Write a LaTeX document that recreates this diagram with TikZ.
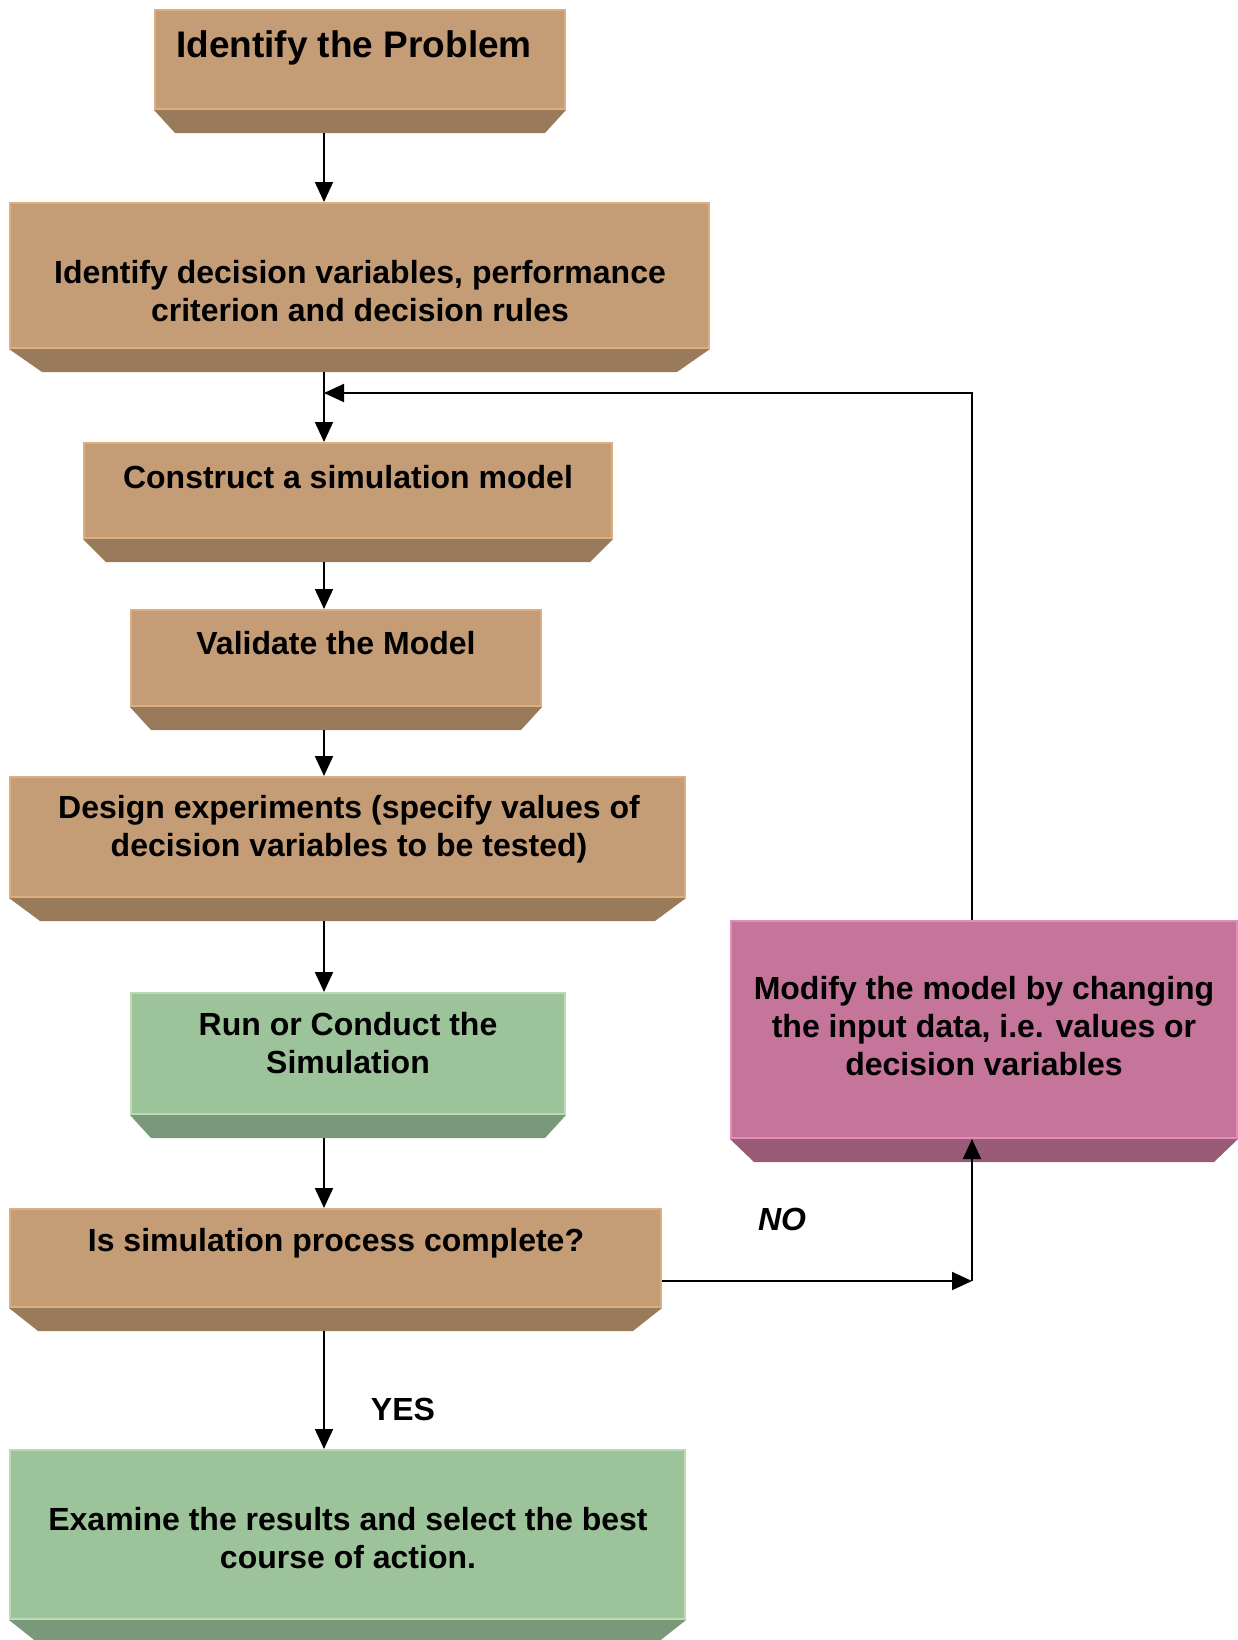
\documentclass[tikz,border=0pt]{standalone}
\usepackage{fontspec}
\setmainfont{Liberation Sans}
\usetikzlibrary{arrows.meta}

\definecolor{tanface}{HTML}{C49D77}
\definecolor{tanedge}{HTML}{DDAE80}
\definecolor{tanbev}{HTML}{997A5B}
\definecolor{greenface}{HTML}{9DC39A}
\definecolor{greenedge}{HTML}{B8DBB4}
\definecolor{greenbev}{HTML}{7A997A}
\definecolor{pinkface}{HTML}{C47599}
\definecolor{pinkedge}{HTML}{E48CBA}
\definecolor{pinkbev}{HTML}{995B78}

\tikzset{
  box/.style={rectangle, inner sep=0pt, line width=1pt},
  tanbox/.style={box, fill=tanface, draw=tanedge},
  greenbox/.style={box, fill=greenface, draw=greenedge},
  pinkbox/.style={box, fill=pinkface, draw=pinkedge},
  txt/.style={align=center, font=\fontsize{16}{18.8}\selectfont\bfseries},
  arr/.style={line width=1pt, -{Triangle[length=10pt,width=9pt]}}
}

\begin{document}
\begin{tikzpicture}[x=0.5pt, y=-0.5pt]
\useasboundingbox (0,0) rectangle (1238,1640);

% Boxes (face of each step)
\node[tanbox, minimum width=205pt, minimum height=49.5pt] (b1) at (360,59.5) {};
\node[tanbox, minimum width=349.5pt, minimum height=72.5pt] (b2) at (359.5,275.5) {};
\node[tanbox, minimum width=264pt, minimum height=47.5pt] (b3) at (348,490.5) {};
\node[tanbox, minimum width=205pt, minimum height=48pt] (b4) at (336,658) {};
\node[tanbox, minimum width=337.5pt, minimum height=60pt] (b5) at (347.5,837) {};
\node[greenbox, minimum width=217pt, minimum height=60.5pt] (b6) at (348,1053.5) {};
\node[tanbox, minimum width=325.5pt, minimum height=49pt] (b7) at (335.5,1258) {};
\node[greenbox, minimum width=337.5pt, minimum height=84.5pt] (b8) at (347.5,1534.5) {};
\node[pinkbox, minimum width=253pt, minimum height=108.5pt] (pink) at (984,1029.5) {};

% Bevels under the boxes
\fill[tanbev] (b1.south west) -- (b1.south east) -- ([shift={(-21,23)}]b1.south east) -- ([shift={(21,23)}]b1.south west) -- cycle;
\fill[tanbev] (b2.south west) -- (b2.south east) -- ([shift={(-33,23)}]b2.south east) -- ([shift={(33,23)}]b2.south west) -- cycle;
\fill[tanbev] (b3.south west) -- (b3.south east) -- ([shift={(-23,23)}]b3.south east) -- ([shift={(23,23)}]b3.south west) -- cycle;
\fill[tanbev] (b4.south west) -- (b4.south east) -- ([shift={(-21,23)}]b4.south east) -- ([shift={(21,23)}]b4.south west) -- cycle;
\fill[tanbev] (b5.south west) -- (b5.south east) -- ([shift={(-31,23)}]b5.south east) -- ([shift={(31,23)}]b5.south west) -- cycle;
\fill[greenbev] (b6.south west) -- (b6.south east) -- ([shift={(-21,23)}]b6.south east) -- ([shift={(21,23)}]b6.south west) -- cycle;
\fill[tanbev] (b7.south west) -- (b7.south east) -- ([shift={(-29,23)}]b7.south east) -- ([shift={(29,23)}]b7.south west) -- cycle;
\fill[greenbev] (b8.south west) -- (b8.south east) -- ([shift={(-29,23)}]b8.south east) -- ([shift={(29,23)}]b8.south west) -- cycle;
\fill[pinkbev] (pink.south west) -- (pink.south east) -- ([shift={(-24,23)}]pink.south east) -- ([shift={(24,23)}]pink.south west) -- cycle;

% Texts
\node[txt, font=\fontsize{18.5}{22}\selectfont\bfseries] (t1) at (354,48) {Identify the Problem};
\node[txt] (t2) at (360,291) {Identify decision variables, performance\\criterion and decision rules};
\node[txt] (t3) at (348,477) {Construct a simulation model};
\node[txt] (t4) at (336,643) {Validate the Model};
\node[txt] (t5) at (349,829) {Design experiments (specify values of\\decision variables to be tested)};
\node[txt] (t6) at (348,1043) {Run or Conduct the\\Simulation};
\node[txt] (t7) at (336,1243) {Is simulation process complete?};
\node[txt] (t8) at (348,1538) {Examine the results and select the best\\course of action.};
\node[txt] (t9) at (984,1026) {Modify the model by changing\\the input data, i.e. values or\\decision variables};
\node[txt, font=\fontsize{16}{18.8}\selectfont\bfseries\itshape] (no) at (782,1219) {NO};
\node[txt] (yes) at (403,1409) {YES};

% Connectors
\coordinate (trunk) at (324,0);
\coordinate (join) at (324,393);
\coordinate (turn) at (972,1281);
\coordinate (b1base) at ([shift={(0,23)}]b1.south);
\coordinate (b2base) at ([shift={(0,23)}]b2.south);
\coordinate (b3base) at ([shift={(0,23)}]b3.south);
\coordinate (b4base) at ([shift={(0,23)}]b4.south);
\coordinate (b5base) at ([shift={(0,23)}]b5.south);
\coordinate (b6base) at ([shift={(0,23)}]b6.south);
\coordinate (b7base) at ([shift={(0,23)}]b7.south);

\draw[arr] (b1base -| trunk) -- (b2.north -| trunk);
\draw[arr] (b2base -| trunk) -- (b3.north -| trunk);
\draw[arr] (b3base -| trunk) -- (b4.north -| trunk);
\draw[arr] (b4base -| trunk) -- (b5.north -| trunk);
\draw[arr] (b5base -| trunk) -- (b6.north -| trunk);
\draw[arr] (b6base -| trunk) -- (b7.north -| trunk);
\draw[arr] (b7base -| trunk) -- (b8.north -| trunk);
\draw[arr] (b7.east |- turn) -- (turn);
\draw[arr] (turn) -- (pink.south -| turn);
\draw[arr] (pink.north -| turn) -- (join -| turn) -- (join);
\end{tikzpicture}
\end{document}
